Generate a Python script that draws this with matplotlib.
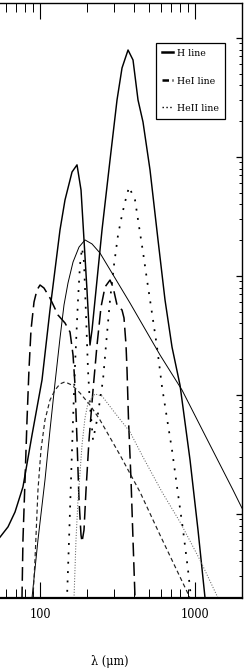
import numpy as np
import matplotlib
matplotlib.use('Agg')
import matplotlib.pyplot as plt
from matplotlib import font_manager
from matplotlib.font_manager import FontProperties
from matplotlib.ticker import FuncFormatter, NullFormatter, LogLocator

# ---------------- data (wavelength in micron, flux arbitrary) ----------------
h_lam = [44.0, 55.0, 61.9, 68.7, 77.3, 88.4, 102.6, 115.5, 134.0, 144.3, 160.2, 172.5,
         183.1, 191.4, 200.1, 209.2, 215.6, 232.2, 250.1, 281.7, 312.5, 336.6, 368.1,
         396.3, 426.9, 459.7, 510.2, 574.5, 637.4, 707.3, 796.6, 924.5, 1041, 1155, 1200]
h_flux = [0.45, 0.64, 0.78, 1.04, 1.69, 4.6, 13.4, 52, 244, 435, 748, 859,
          528, 201, 76, 26.3, 35.2, 92.5, 244, 944, 3013, 5598, 7925,
          6536, 3013, 1968, 778, 201, 63, 25.3, 12.1, 2.84, 0.73, 0.197, 0.106]

hei_lam = [75.1, 76.2, 77.3, 79.7, 82.1, 84.5, 87.1, 91.1, 95.2, 99.6,
           105.6, 115.5, 130.1, 144.3, 155.5, 162.6, 167.5, 172.5, 177.7, 183.1,
           185.8, 191.4, 197.2, 206.2, 218.8, 232.2, 246.4, 261.5, 281.7, 294.5,
           312.5, 336.6, 346.7, 357.2, 362.6, 370.7, 384.8, 396.3, 408.3, 414.4]
hei_flux = [0.129, 0.197, 0.605, 1.93, 6.17, 16.2, 35.2, 60.5, 76.3, 84.0,
            79.3, 65.3, 47.0, 40.3, 33.8, 21.7, 12.1, 4.19, 1.31, 0.666,
            0.582, 0.734, 1.59, 4.19, 11.0, 26.3, 54.9, 80.9, 92.5, 80.9,
            57.1, 51.8, 44.4, 26.3, 16.2, 6.17, 1.93, 0.605, 0.197, 0.129]

heii_lam = [147.6, 148.7, 153.2, 157.8, 162.6, 167.5, 175.1, 180.3, 185.8, 191.4,
            197.2, 203.1, 209.2, 218.8, 232.2, 242.7, 253.8, 265.4, 281.7, 298.9,
            317.2, 336.6, 352.0, 373.6, 408.3, 439.8, 459.7, 488.0, 510.2, 533.4,
            566.1, 609.9, 666.7, 707.3, 762.1, 833.2, 897.3, 938.2, 966.5]
heii_flux = [0.129, 0.197, 0.605, 1.93, 6.17, 17.9, 62.9, 124, 172, 131,
             47.0, 16.2, 8.24, 4.19, 6.17, 9.08, 13.4, 26.3, 62.9, 124,
             221, 326, 419, 560, 435, 230, 159, 92.5, 62.9, 42.7,
             25.3, 11.7, 5.60, 3.45, 1.69, 0.734, 0.338, 0.197, 0.15]

cont_lam = [85.8, 88.4, 96.6, 107.2, 115.5, 124.4, 134.0, 142.2, 150.9, 162.6,
            177.7, 194.2, 215.6, 242.7, 379, 592, 821, 1244, 1751, 2000]
cont_flux = [0.142, 0.197, 0.605, 1.93, 5.08, 12.6, 30.1, 57.1, 87.4, 131,
             175, 201, 186, 156, 59.3, 21.7, 11.0, 3.80, 1.59, 1.12]

cdash_lam = [88.8, 89.7, 92.4, 96.6, 101.0, 107.2, 115.5, 124.4, 134.0, 144.3,
             160.2, 180.3, 209.2, 242.7, 326.8, 439.8, 592, 796.6, 924.5, 1010]
cdash_flux = [0.129, 0.197, 0.41, 1.59, 3.45, 6.17, 9.08, 11.0, 12.4, 12.9,
              12.1, 10.4, 8.24, 6.17, 3.13, 1.53, 0.666, 0.296, 0.197, 0.153]

cdot_lam = [163.8, 165.0, 169.9, 175.1, 180.3, 185.8, 194.2, 203.1, 225.4, 250.1,
            303.4, 379, 459.7, 609.9, 796.6, 1073, 1401, 1531]
cdot_flux = [0.129, 0.197, 0.605, 1.31, 2.21, 3.80, 6.41, 8.57, 10.2, 9.81,
             7.06, 4.89, 3.01, 1.53, 0.857, 0.41, 0.197, 0.15]

legend_labels = ['H line', 'HeI line', 'HeII line']
x_label = 'λ (μm)'

# ---------------- font ----------------
cond = [f.fname for f in font_manager.fontManager.ttflist
        if 'serif' in f.fname.lower() and 'condensed' in f.fname.lower()
        and not any(k in f.fname.lower() for k in ('bold', 'italic', 'oblique'))]
if cond:
    base_fp = FontProperties(fname=cond[0])
else:
    base_fp = FontProperties(family='Liberation Serif')

def fp(size):
    p = base_fp.copy()
    p.set_size(size)
    return p

# ---------------- figure ----------------
W, H = 244, 669
fig = plt.figure(figsize=(W / 100, H / 100), dpi=100)
ax_l, ax_r, ax_t, ax_b = -21.4, 242.0, 3.0, 598.0
ax = fig.add_axes([ax_l / W, (H - ax_b) / H, (ax_r - ax_l) / W, (ax_b - ax_t) / H])

ax.set_xscale('log')
ax.set_yscale('log')
ax.set_xlim(40, 2000)
ax.set_ylim(0.197, 19680)

ax.plot(h_lam, h_flux, color='black', lw=1.05, solid_joinstyle='round')
ax.plot(hei_lam, hei_flux, color='black', lw=1.1, linestyle=(0, (9, 3.8)))
ax.plot(heii_lam, heii_flux, color='black', lw=1.25, linestyle=(0, (1.1, 4.3)))
ax.plot(cont_lam, cont_flux, color='black', lw=0.7)
ax.plot(cdash_lam, cdash_flux, color='#222222', lw=0.85, linestyle=(0, (3.5, 2.5)))
ax.plot(cdot_lam, cdot_flux, color='#666666', lw=0.75, linestyle=(0, (1, 1.6)))

# legend proxies
hl = [plt.Line2D([], [], color='black', lw=1.8),
      plt.Line2D([], [], color='black', lw=1.8, linestyle=(0, (2.6, 1.4))),
      plt.Line2D([], [], color='black', lw=1.0, linestyle=(0, (1, 1.8)))]
leg = ax.legend(hl, legend_labels, loc='upper right',
                bbox_to_anchor=((225 - ax_l) / (ax_r - ax_l), 1 - (43 - ax_t) / (ax_b - ax_t)),
                bbox_transform=ax.transAxes, borderaxespad=0, prop=fp(7.5),
                handlelength=1.0, handletextpad=0.45, borderpad=0.55, labelspacing=1.75,
                fancybox=False, framealpha=1)
leg.get_frame().set_edgecolor('black')
leg.get_frame().set_linewidth(0.9)

# ticks
ax.xaxis.set_major_locator(LogLocator(base=10, numticks=10))
ax.xaxis.set_minor_locator(LogLocator(base=10, subs=np.arange(2, 10), numticks=20))
ax.xaxis.set_major_formatter(FuncFormatter(lambda v, _: f'{v:g}'))
ax.xaxis.set_minor_formatter(NullFormatter())
ax.yaxis.set_minor_locator(LogLocator(base=10, subs=np.arange(2, 10), numticks=20))
ax.tick_params(axis='x', which='major', direction='in', length=11.5, width=0.8,
               top=True, bottom=True, pad=7)
ax.tick_params(axis='x', which='minor', direction='in', length=6.5, width=0.7,
               top=True, bottom=True)
ax.tick_params(axis='y', which='major', direction='in', length=4.3, width=0.9,
               left=True, right=True, labelleft=False)
ax.tick_params(axis='y', which='minor', direction='in', length=2.5, width=0.7,
               left=True, right=True, labelleft=False)
for lab in ax.get_xticklabels():
    lab.set_fontproperties(fp(9))

for s in ax.spines.values():
    s.set_linewidth(1.0)
ax.spines['bottom'].set_linewidth(1.6)

ax.set_xlabel(x_label, fontproperties=fp(9))
ax.xaxis.set_label_coords(0.5, -(662 - ax_b) / (ax_b - ax_t), transform=ax.transAxes)
ax.xaxis.label.set_va('center')

fig.savefig('out.png', dpi=100)
